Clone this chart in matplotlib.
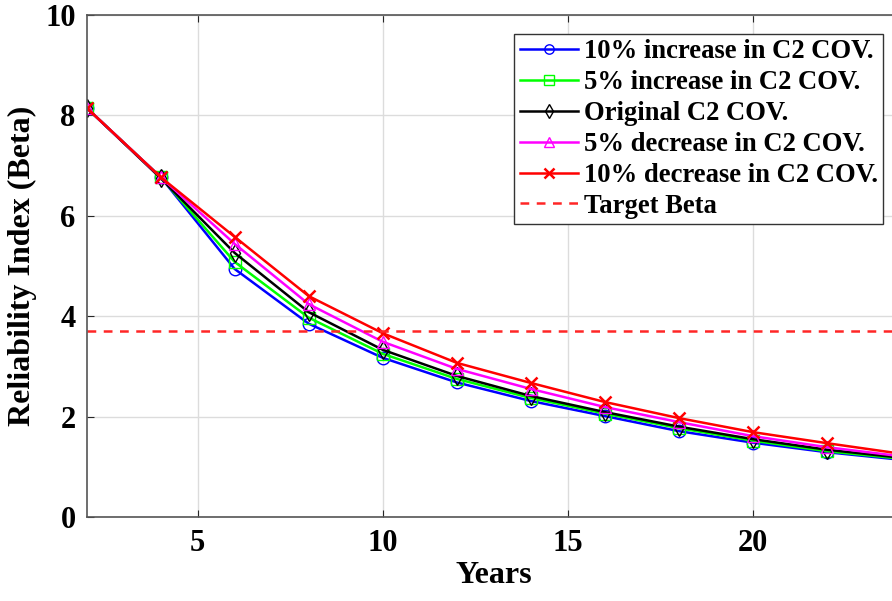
import matplotlib.pyplot as plt

years = [2, 4, 6, 8, 10, 12, 14, 16, 18, 20, 22, 24]
beta_inc10 = [8.15, 6.77, 4.94, 3.85, 3.17, 2.68, 2.31, 2.01, 1.71, 1.48, 1.29, 1.14]
beta_inc5 = [8.15, 6.77, 5.08, 3.97, 3.25, 2.75, 2.37, 2.06, 1.77, 1.52, 1.31, 1.16]
beta_orig = [8.15, 6.75, 5.26, 4.08, 3.33, 2.81, 2.41, 2.09, 1.80, 1.55, 1.34, 1.18]
beta_dec5 = [8.15, 6.77, 5.44, 4.24, 3.49, 2.95, 2.55, 2.19, 1.89, 1.61, 1.39, 1.21]
beta_dec10 = [8.15, 6.77, 5.58, 4.40, 3.66, 3.07, 2.67, 2.29, 1.97, 1.69, 1.47, 1.26]
target_beta = 3.7

labels = ['10% increase in C2 COV.', '5% increase in C2 COV.', 'Original C2 COV.',
          '5% decrease in C2 COV.', '10% decrease in C2 COV.']

plt.rcParams['font.family'] = ['Liberation Serif', 'DejaVu Serif']
plt.rcParams['font.weight'] = 'bold'

fig = plt.figure(figsize=(8.92, 6.01), dpi=100)
ax = fig.add_axes([0.0971, 0.1398, 0.913, 0.8353])

series = [
    (beta_inc10, (0, 0, 1), 'o', dict(markerfacecolor='none')),
    (beta_inc5, (0, 1, 0), 's', dict(markerfacecolor='none')),
    (beta_orig, 'black', 'd', dict(markerfacecolor='none')),
    (beta_dec5, (1, 0, 1), '^', dict(markerfacecolor='none')),
    (beta_dec10, (1, 0, 0), 'x', dict(markeredgewidth=1.8)),
]
for (vals, col, mk, kw), lab in zip(series, labels):
    ax.plot(years, vals, color=col, marker=mk, markersize=9, linewidth=1.8,
            markeredgecolor=col, label=lab, **kw)

ax.axhline(target_beta, color=(1, 0.15, 0.15), linestyle=(0, (3.5, 3)), linewidth=1.8,
           label='Target Beta')

ax.set_xlim(2, 24)
ax.set_ylim(0, 10)
ax.set_xticks([5, 10, 15, 20])
ax.set_yticks([0, 2, 4, 6, 8, 10])
ax.grid(True, color='#dcdcdc', linewidth=1)
ax.tick_params(direction='in', top=True, right=True, labelsize=22, length=5,
               color='#262626')
ax.tick_params(axis='x', pad=9)
ax.tick_params(axis='y', pad=8)
for sp in ax.spines.values():
    sp.set_color('#555555')
    sp.set_linewidth(1.2)

ax.set_xlabel('Years', fontsize=23, fontweight='bold', labelpad=2)
ax.set_ylabel('Reliability Index (Beta)', fontsize=23, fontweight='bold', labelpad=6)

leg = ax.legend(loc='upper right', bbox_to_anchor=(0.978, 0.962),
                prop={'size': 19.2, 'weight': 'bold'}, handlelength=2.2,
                handletextpad=0.2, labelspacing=0.22, borderpad=0.2,
                borderaxespad=0, fancybox=False, framealpha=1, markerscale=0.75)
leg.get_frame().set_edgecolor('#333333')
leg.get_frame().set_linewidth(1.0)

fig.savefig('out.png', dpi=100)
